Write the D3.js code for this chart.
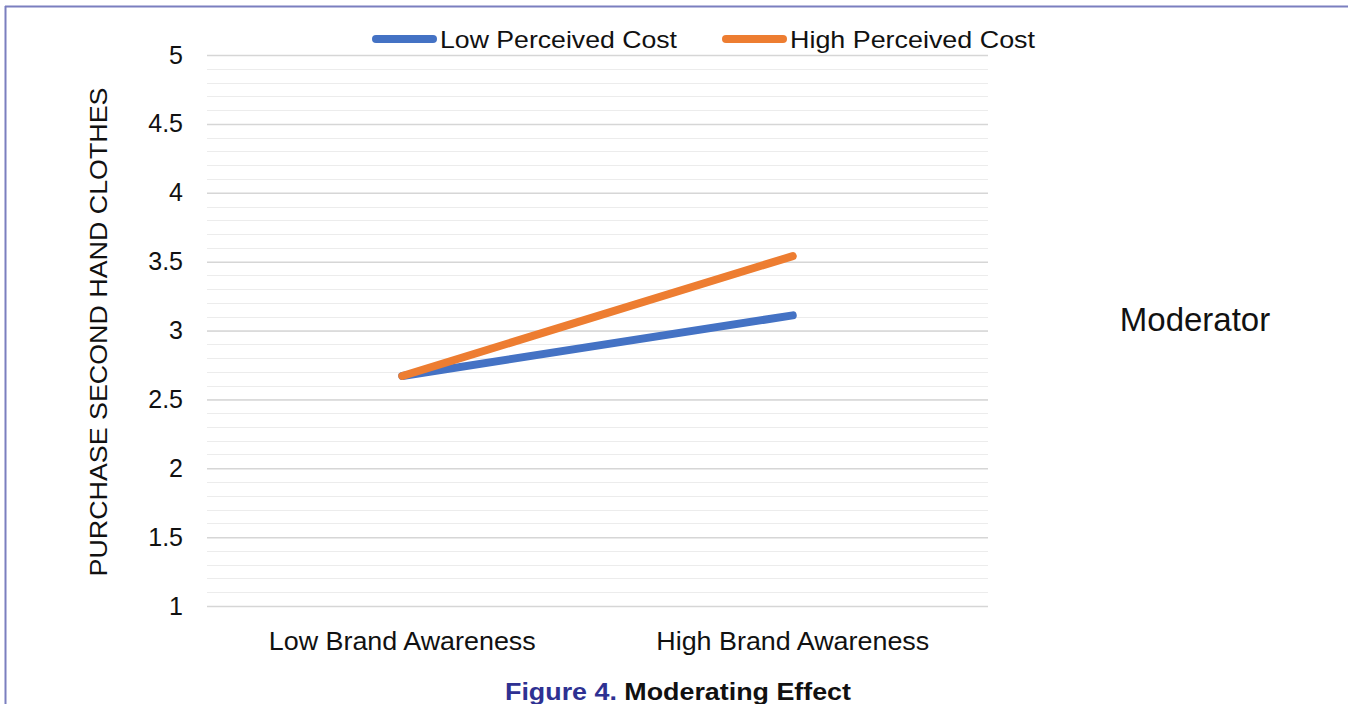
<!DOCTYPE html>
<html>
<head>
<meta charset="utf-8">
<script src="https://cdn.jsdelivr.net/npm/d3@7"></script>
<style>
  body { margin: 0; background: #fff; }
  svg { display: block; font-family: "Liberation Sans", Arial, sans-serif; }
</style>
</head>
<body>
<div class="chart"></div>
<script>
var categories = ["Low Brand Awareness", "High Brand Awareness"];
var seriesNames = ["Low Perceived Cost", "High Perceived Cost"];
var lowCostValues = [2.67, 3.11];
var highCostValues = [2.67, 3.54];
var yTicks = [1, 1.5, 2, 2.5, 3, 3.5, 4, 4.5, 5];
var colors = ["#4472C4", "#ED7D31"];

var svgWidth = 1348;
var svgHeight = 704;

var margin = { top: 55, right: 360, bottom: 98, left: 207 };
var width = svgWidth - margin.left - margin.right;
var height = svgHeight - margin.top - margin.bottom;

var svg = d3.select(".chart")
  .append("svg")
  .attr("width", svgWidth)
  .attr("height", svgHeight);

// frame (only top and left edges show)
svg.append("line").attr("x1", 5).attr("x2", svgWidth).attr("y1", 6.5).attr("y2", 6.5)
  .attr("stroke", "#7b7fbf").attr("stroke-width", 2);
svg.append("line").attr("x1", 5.5).attr("x2", 5.5).attr("y1", 6).attr("y2", svgHeight)
  .attr("stroke", "#7b7fbf").attr("stroke-width", 2);

var chartGroup = svg.append("g")
  .attr("transform", `translate(${margin.left}, ${margin.top})`);

var x = d3.scaleBand().domain(categories).range([0, width]);
var y = d3.scaleLinear().domain([1, 5]).range([height, 0]);

// minor gridlines
chartGroup.append("g")
  .selectAll("line")
  .data(d3.range(10, 51).map(d => d / 10))
  .enter()
  .append("line")
  .attr("x1", 0).attr("x2", width)
  .attr("y1", d => Math.round(y(d)) + 0.5)
  .attr("y2", d => Math.round(y(d)) + 0.5)
  .attr("stroke", "#ececec")
  .attr("stroke-width", 1.2);

// major gridlines + labels
var leftAxis = d3.axisLeft(y).tickValues(yTicks).tickSize(-width).tickFormat(d3.format("~g")).tickPadding(24);
var yAxisG = chartGroup.append("g").call(leftAxis);
yAxisG.select(".domain").remove();
yAxisG.selectAll(".tick line").attr("stroke", "#d6d6d6").attr("stroke-width", 1.5);
yAxisG.selectAll(".tick text")
  .attr("font-size", 25)
  .attr("fill", "#111")
  .attr("font-family", "Liberation Sans, Arial, sans-serif");

// category labels
var catWidths = [267, 273];
var bottomAxis = d3.axisBottom(x).tickSize(0);
var xAxisG = chartGroup.append("g")
  .attr("transform", `translate(0, ${height})`)
  .call(bottomAxis);
xAxisG.select(".domain").remove();
xAxisG.selectAll(".tick text")
  .attr("y", 44)
  .attr("dy", 0)
  .attr("font-size", 26)
  .attr("fill", "#111")
  .attr("font-family", "Liberation Sans, Arial, sans-serif")
  .attr("textLength", (d, i) => catWidths[i])
  .attr("lengthAdjust", "spacingAndGlyphs");

// lines
var seriesData = [lowCostValues, highCostValues];
var line = d3.line()
  .x((d, i) => x(categories[i]) + x.bandwidth() / 2)
  .y(d => y(d));

chartGroup.selectAll(".series")
  .data(seriesData)
  .enter()
  .append("path")
  .attr("class", "series")
  .attr("d", d => line(d))
  .attr("fill", "none")
  .attr("stroke", (d, i) => colors[i])
  .attr("stroke-width", 8)
  .attr("stroke-linecap", "round");

// y axis title
svg.append("text")
  .attr("transform", `translate(107, 332) rotate(-90)`)
  .attr("text-anchor", "middle")
  .attr("font-size", 23)
  .attr("fill", "#111")
  .attr("textLength", 489)
  .attr("lengthAdjust", "spacingAndGlyphs")
  .text("PURCHASE SECOND HAND CLOTHES");

// legend
var legendX = [373, 723];
var legendWidths = [237, 245];
var legend = svg.selectAll(".legend")
  .data(seriesNames)
  .enter()
  .append("g")
  .attr("class", "legend")
  .attr("transform", (d, i) => `translate(${legendX[i]}, 39)`);
legend.append("line")
  .attr("x1", 3).attr("x2", 60).attr("y1", 0).attr("y2", 0)
  .attr("stroke", (d, i) => colors[i])
  .attr("stroke-width", 8)
  .attr("stroke-linecap", "round");
legend.append("text")
  .attr("x", 67)
  .attr("y", 9)
  .attr("font-size", 24)
  .attr("fill", "#111")
  .attr("textLength", (d, i) => legendWidths[i])
  .attr("lengthAdjust", "spacingAndGlyphs")
  .text(d => d);

// moderator label
svg.append("text")
  .attr("x", 1195)
  .attr("y", 331)
  .attr("text-anchor", "middle")
  .attr("font-size", 33)
  .attr("fill", "#111")
  .text("Moderator");

// caption
var caption = svg.append("text")
  .attr("x", 678)
  .attr("y", 700)
  .attr("text-anchor", "middle")
  .attr("font-size", 23)
  .attr("font-weight", "bold")
  .attr("textLength", 346)
  .attr("lengthAdjust", "spacingAndGlyphs");
caption.append("tspan").attr("fill", "#2e3192").text("Figure 4. ");
caption.append("tspan").attr("fill", "#111").text("Moderating Effect");
</script>
</body>
</html>
